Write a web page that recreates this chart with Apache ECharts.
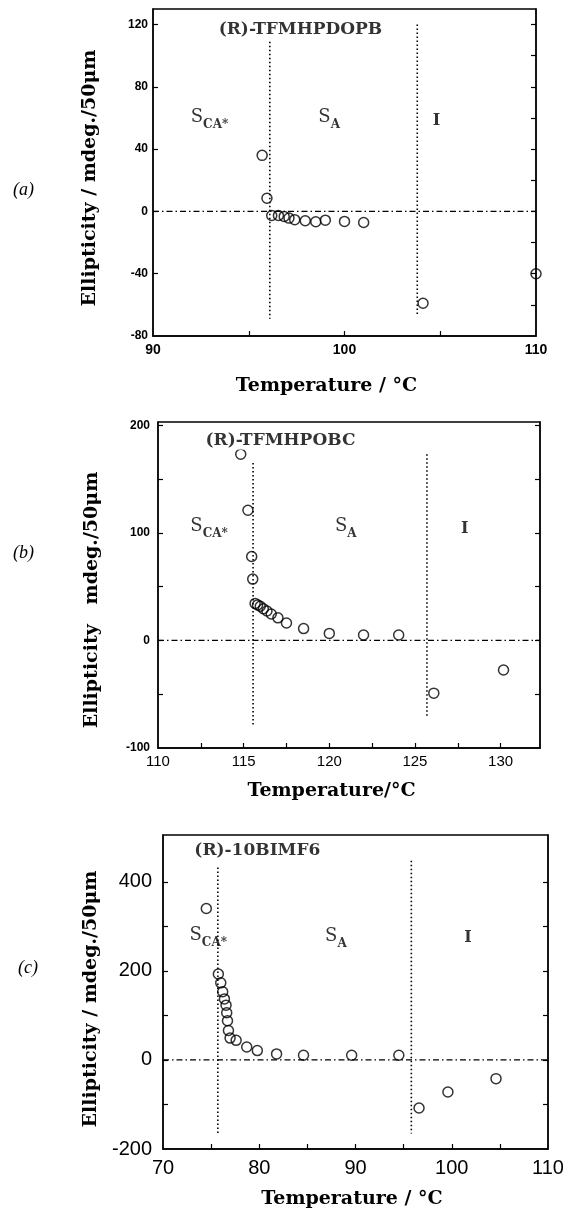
<!DOCTYPE html>
<html><head><meta charset="utf-8">
<script src="https://cdn.jsdelivr.net/npm/echarts@6/dist/echarts.min.js"></script>
<style>html,body{margin:0;padding:0;background:#fff}#c{width:569px;height:1215px}</style>
</head><body><div id="c"></div>
<script>
// ---------- Panel (a) (R)-TFMHPDOPB ----------
const tempA = [95.7, 95.95, 96.2, 96.55, 96.85, 97.1, 97.4, 97.95, 98.5, 99.0, 100.0, 101.0, 104.1, 110.0];
const ellA  = [36, 8.5, -2.6, -2.6, -3.2, -4.3, -5.3, -6.0, -6.6, -5.6, -6.4, -7.1, -59, -40];
const phaseLinesA = [[96.1, 109, -69], [103.8, 120, -66]];   // [T, top, bottom]
const xLabelsA = [90, 100, 110];
const xTicksA = [95, 100, 105];
const yLabelsA = [-80, -40, 0, 40, 80, 120];
const yTicksA = [-40, 0, 40, 80, 120];
const yTicksRA = [-60, -40, -20, 0, 20, 40, 60, 80, 100, 120];
const annA = [[97.7, 117, 'title', '(R)-TFMHPDOPB'], [92.95, 59, 'sca', ''], [99.2, 59, 'sa', ''], [104.8, 58, 'i', 'I']];

// ---------- Panel (b) (R)-TFMHPOBC ----------
const tempB = [114.83, 115.25, 115.47, 115.53, 115.67, 115.81, 115.97, 116.15, 116.36, 116.61, 117.0, 117.5, 118.5, 120.0, 122.0, 124.05, 126.1, 130.17];
const ellB  = [173, 121, 78, 57, 34.4, 33, 31.7, 29.4, 27.3, 24.5, 21, 16.2, 11, 6.5, 5, 5, -49, -27.5];
const phaseLinesB = [[115.55, 165, -80], [125.7, 173, -72]];
const xLabelsB = [110, 115, 120, 125, 130];
const xTicksB = [112.5, 115, 117.5, 120, 122.5, 125, 127.5, 130];
const yLabelsB = [-100, 0, 100, 200];
const yTicksB = [-50, 0, 50, 100, 150, 200];
const yTicksRB = [-50, 0, 50, 100, 150, 200];
const annB = [[117.15, 186, 'title', '(R)-TFMHPOBC'], [112.98, 104, 'sca', ''], [120.96, 104, 'sa', ''], [127.9, 104, 'i', 'I']];

// ---------- Panel (c) (R)-10BIMF6 ----------
const tempC = [74.5, 75.75, 76.0, 76.2, 76.38, 76.55, 76.62, 76.7, 76.8, 76.97, 77.6, 78.7, 79.8, 81.8, 84.6, 89.6, 94.5, 96.6, 99.6, 104.6];
const ellC  = [340, 193, 173, 153, 137, 123, 106, 88, 66, 49, 44, 29, 21, 13.5, 10.5, 10.5, 10.5, -108, -72, -42];
const phaseLinesC = [[75.7, 432, -165], [95.8, 447, -165]];
const xLabelsC = [70, 80, 90, 100, 110];
const xTicksC = [75, 80, 85, 90, 95, 100, 105];
const yLabelsC = [-200, 0, 200, 400];
const yTicksC = [-100, 0, 100, 200, 300, 400];
const yTicksRC = [-100, 0, 100, 200, 300, 400];
const annC = [[79.8, 469, 'title', '(R)-10BIMF6'], [74.7, 275, 'sca', ''], [87.96, 272, 'sa', ''], [101.7, 273, 'i', 'I']];

const SERIF = '"DejaVu Serif", "Liberation Serif", serif';
const SANS = '"Liberation Sans", Arial, sans-serif';

const panels = [
  { grid: {left:153, top:9, width:383, height:327}, x:[90,110], y:[-80,130],
    temp: tempA, ell: ellA, lines: phaseLinesA, ann: annA,
    xLabels: xLabelsA, xTicks: xTicksA, yLabels: yLabelsA, yTicks: yTicksA, yTicksR: yTicksRA,
    xLab: {fontSize:14, fontWeight:'bold', margin:7}, yLab: {fontSize:12, fontWeight:'bold', margin:5},
    xName: 'Temperature / °C', xGap: 41, xPad: [0,36,0,0],
    yName: 'Ellipticity / mdeg./50μm', yGap: 53, yPad: [0,11,0,0] },
  { grid: {left:158, top:422, width:382, height:326}, x:[110,132.3], y:[-100,203],
    temp: tempB, ell: ellB, lines: phaseLinesB, ann: annB,
    xLabels: xLabelsB, xTicks: xTicksB, yLabels: yLabelsB, yTicks: yTicksB, yTicksR: yTicksRB,
    xLab: {fontSize:15, fontWeight:'normal', margin:6}, yLab: {fontSize:12, fontWeight:'bold', margin:8},
    xName: 'Temperature/°C', xGap: 34, xPad: [0,35,0,0],
    yName: 'Ellipticity   mdeg./50μm', yGap: 56, yPad: [0,30,0,0] },
  { grid: {left:163, top:835, width:385, height:314}, x:[70,110], y:[-200,505],
    temp: tempC, ell: ellC, lines: phaseLinesC, ann: annC,
    xLabels: xLabelsC, xTicks: xTicksC, yLabels: yLabelsC, yTicks: yTicksC, yTicksR: yTicksRC,
    xLab: {fontSize:20, fontWeight:'normal', margin:9}, yLab: {fontSize:20, fontWeight:'normal', margin:11, padding:[10,0,0,0]},
    xName: 'Temperature / °C', xGap: 41, xPad: [0,7,0,0],
    yName: 'Ellipticity / mdeg./50μm', yGap: 62, yPad: [0,14,0,0] }
];

const grids = [], xAxes = [], yAxes = [], series = [];
const tickStyle = {color:'#000', width:1.2};
const noStroke = {textBorderWidth:0, textBorderColor:'transparent', textShadowBlur:0};
panels.forEach((p, i) => {
  grids.push(Object.assign({show:true, borderColor:'#000', borderWidth:1.3, backgroundColor:'transparent'}, p.grid));
  xAxes.push({
    gridIndex:i, type:'value', min:p.x[0], max:p.x[1], position:'bottom',
    axisLine:{show:true, onZero:false, lineStyle:{color:'#000', width:1.5}},
    axisTick:{show:true, inside:true, length:5, customValues:p.xTicks, lineStyle:tickStyle},
    axisLabel:Object.assign({customValues:p.xLabels, color:'#000', fontFamily:SANS}, p.xLab),
    splitLine:{show:false},
    name:p.xName, nameLocation:'middle', nameGap:p.xGap,
    nameTextStyle:{fontFamily:SERIF, fontWeight:'bold', fontSize:19, color:'#000', padding:p.xPad}
  });
  yAxes.push({
    gridIndex:i, type:'value', min:p.y[0], max:p.y[1], position:'left',
    axisLine:{show:true, onZero:false, lineStyle:{color:'#000', width:1.5}},
    axisTick:{show:true, inside:true, length:5, customValues:p.yTicks, lineStyle:tickStyle},
    axisLabel:Object.assign({customValues:p.yLabels, color:'#000', fontFamily:SANS}, p.yLab),
    splitLine:{show:false},
    name:p.yName, nameLocation:'middle', nameGap:p.yGap, nameRotate:90,
    nameTextStyle:{fontFamily:SERIF, fontWeight:'bold', fontSize:19, color:'#000', padding:p.yPad}
  });
  yAxes.push({
    gridIndex:i, type:'value', min:p.y[0], max:p.y[1], position:'right',
    axisLine:{show:true, onZero:false, lineStyle:{color:'#000', width:1.5}},
    axisTick:{show:true, inside:true, length:5, customValues:p.yTicksR, lineStyle:tickStyle},
    axisLabel:{show:false}, splitLine:{show:false}
  });
  const yL = i*2;
  // zero baseline (dash-dot)
  series.push({
    type:'line', xAxisIndex:i, yAxisIndex:yL, data:[[p.x[0],0],[p.x[1],0]],
    symbol:'none', silent:true, z:1,
    lineStyle:{color:'#000', width:1.2, type:[6,3,1.5,3]}
  });
  // phase boundaries (dotted)
  p.lines.forEach(l => {
    series.push({
      type:'line', xAxisIndex:i, yAxisIndex:yL, data:[[l[0],l[1]],[l[0],l[2]]],
      symbol:'none', silent:true, z:1,
      lineStyle:{color:'#000', width:1.6, type:[1.5,2.5]}
    });
  });
  // data points
  series.push({
    type:'scatter', xAxisIndex:i, yAxisIndex:yL, z:3,
    data:p.temp.map((t,k)=>[t,p.ell[k]]),
    symbol:'circle', symbolSize:10,
    itemStyle:{color:'rgba(255,255,255,0)', borderColor:'#000', borderWidth:1.5}
  });
  // annotations
  series.push({
    type:'scatter', xAxisIndex:i, yAxisIndex:yL, z:6, silent:true,
    data:p.ann.map(a=>({value:[a[0],a[1]], kind:a[2], txt:a[3]})),
    symbolSize:0, itemStyle:{color:'#000'},
    label:Object.assign({show:true, position:'inside', align:'center', verticalAlign:'middle', color:'#000',
      formatter: prm => {
        const d = prm.data;
        if (d.kind === 'title') return '{t|' + d.txt + '}';
        if (d.kind === 'sca') return '{s|S}{sub|CA*}';
        if (d.kind === 'sa') return '{s|S}{sub|A}';
        return '{i|' + d.txt + '}';
      },
      rich:{
        t:Object.assign({fontFamily:SERIF, fontWeight:'bold', fontSize:17, color:'#000', backgroundColor:'#fff', padding:[1,2,1,2]}, noStroke),
        s:Object.assign({fontFamily:SERIF, fontSize:18, color:'#000', verticalAlign:'top', lineHeight:23}, noStroke),
        sub:Object.assign({fontFamily:SERIF, fontWeight:'bold', fontSize:12, color:'#000', verticalAlign:'bottom', lineHeight:23}, noStroke),
        i:Object.assign({fontFamily:SERIF, fontWeight:'bold', fontSize:16, color:'#000'}, noStroke)
      }
    }, noStroke)
  });
});

const chart = echarts.init(document.getElementById('c'), null, {renderer:'canvas'});
chart.setOption({
  backgroundColor:'#fff',
  animation:false,
  grid:grids, xAxis:xAxes, yAxis:yAxes, series:series,
  graphic:[
    {type:'text', left:13, top:181, style:{text:'(a)', font:'italic 18px "Liberation Serif", serif', fill:'#000'}},
    {type:'text', left:13, top:544, style:{text:'(b)', font:'italic 18px "Liberation Serif", serif', fill:'#000'}},
    {type:'text', left:18, top:959, style:{text:'(c)', font:'italic 18px "Liberation Serif", serif', fill:'#000'}}
  ]
});
</script></body></html>
